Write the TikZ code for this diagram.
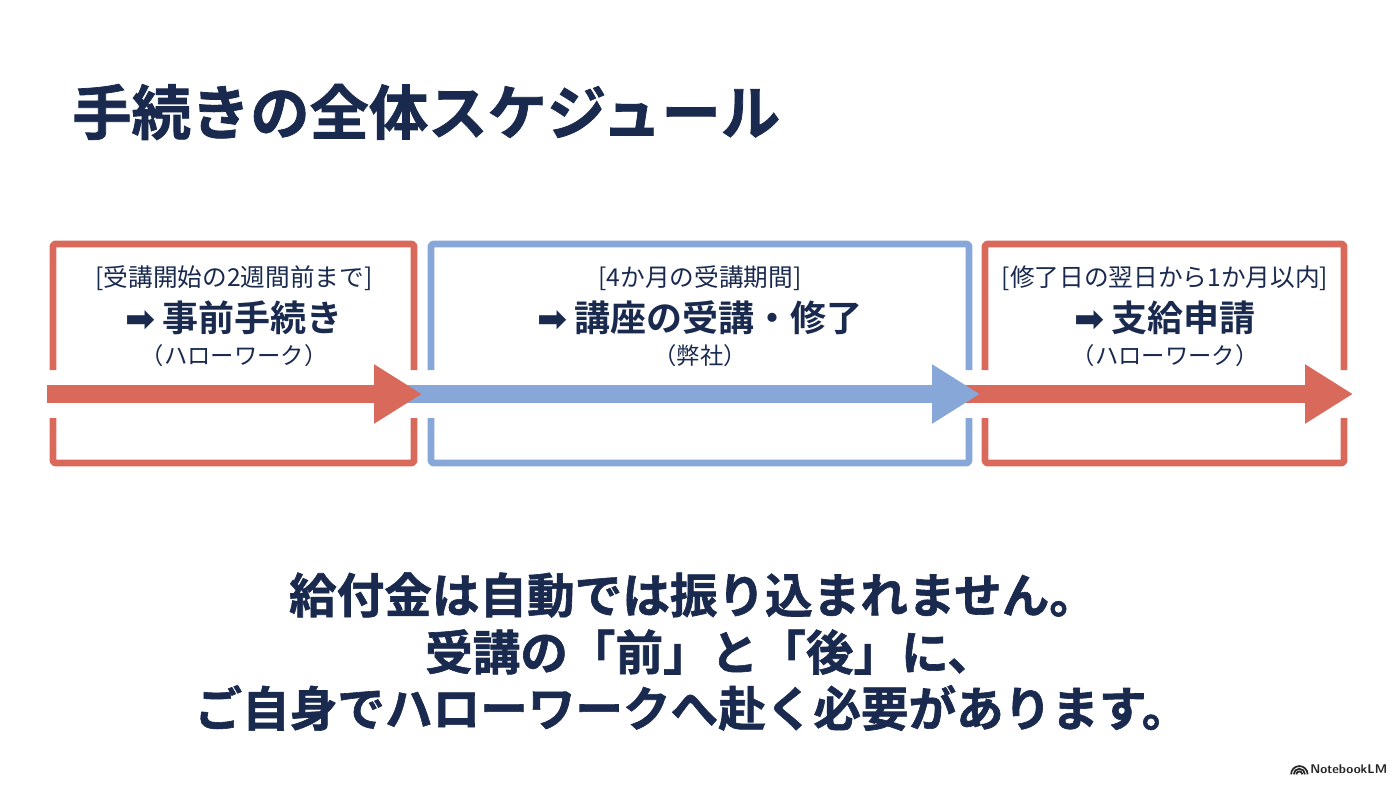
\documentclass[tikz,border=0pt]{standalone}
\usepackage{fontspec}
\usetikzlibrary{arrows.meta}
\newfontfamily\cjk{Noto Sans CJK JP}[BoldFont={Noto Sans CJK JP Bold}]
\newfontfamily\cjkh{Noto Sans CJK JP Bold}[FakeBold=1.3]
\newfontfamily\djv{DejaVu Sans}
\definecolor{navy}{HTML}{1A2A4F}
\definecolor{tred}{HTML}{D9695B}
\definecolor{tblue}{HTML}{87A7D8}
\tikzset{
  frame/.style={line width=5.2pt, rounded corners=2pt, line join=round},
  flow/.style={line width=14pt, -{Triangle[length=36pt,width=42pt]}},
  title/.style={font=\cjkh\fontsize{44.5}{50}\selectfont, text=navy, anchor=west, inner sep=0pt},
  small/.style={font=\cjk\fontsize{18.5}{22}\selectfont, text=navy, inner sep=0pt},
  sub/.style={font=\cjk\fontsize{17.5}{21}\selectfont, text=navy, inner sep=0pt},
  big/.style={font=\cjk\bfseries\fontsize{27}{32}\selectfont, text=navy, inner sep=0pt},
  msg/.style={font=\cjkh\fontsize{35.7}{42}\selectfont, text=navy, inner sep=0pt},
}
\newcommand{\arr}{{\djv\bfseries\fontsize{27}{30}\selectfont ➡}\,}
\begin{document}
\begin{tikzpicture}[x=0.75pt,y=-0.75pt]
\useasboundingbox[fill=white] (0,0) rectangle (1400,788);

% title
\node[title] (title) at (72,112) {手続きの全体スケジュール};

% boxes with gaps at the arrow
\draw[frame,tred] (53,370) -- (53,244) -- (414,244) -- (414,370);
\draw[frame,tred] (53,418) -- (53,463) -- (414,463) -- (414,418);
\draw[frame,tblue] (431,370) -- (431,244) -- (969,244) -- (969,370);
\draw[frame,tblue] (431,418) -- (431,463) -- (969,463) -- (969,418);
\draw[frame,tred] (985,370) -- (985,244) -- (1344,244) -- (1344,370);
\draw[frame,tred] (985,418) -- (985,463) -- (1344,463) -- (1344,418);

% arrows
\coordinate (a1s) at (47,394);
\coordinate (a1e) at (422,394);
\coordinate (a2s) at (400,394);
\coordinate (a2e) at (980,394);
\coordinate (a3s) at (965,394);
\coordinate (a3e) at (1353,394);
\draw[flow,tred] (a3s) -- (a3e);
\draw[flow,tblue] (a2s) -- (a2e);
\draw[flow,tred] (a1s) -- (a1e);

% box texts
\node[small] (t1a) at (234,278) {[受講開始の2週間前まで]};
\node[big] (t1b) at (234,318) {\arr 事前手続き};
\node[sub] (t1c) at (234,356) {（ハローワーク）};

\node[small] (t2a) at (700,278) {[4か月の受講期間]};
\node[big] (t2b) at (700,318) {\arr 講座の受講・修了};
\node[sub] (t2c) at (700,356) {（弊社）};

\node[small] (t3a) at (1165,278) {[修了日の翌日から1か月以内]};
\node[big] (t3b) at (1165,318) {\arr 支給申請};
\node[sub] (t3c) at (1165,356) {（ハローワーク）};

% message
\node[msg] (m1) at (693,595) {給付金は自動では振り込まれません。};
\node[msg] (m2) at (710,652) {受講の「前」と「後」に、};
\node[msg] (m3) at (692,708) {ご自身でハローワークへ赴く必要があります。};

% logo
\node[font=\sffamily\bfseries\fontsize{9.5}{11}\selectfont, text=black!85, anchor=west, inner sep=0pt] (logo) at (1310,769) {NotebookLM};
\foreach \r in {2.2,4.2,6.2}
  \draw[line width=1.3pt, black!85] ([xshift=-8pt,yshift=-4pt]logo.west) ++(-\r pt,0) arc (180:0:\r pt);
\end{tikzpicture}
\end{document}
